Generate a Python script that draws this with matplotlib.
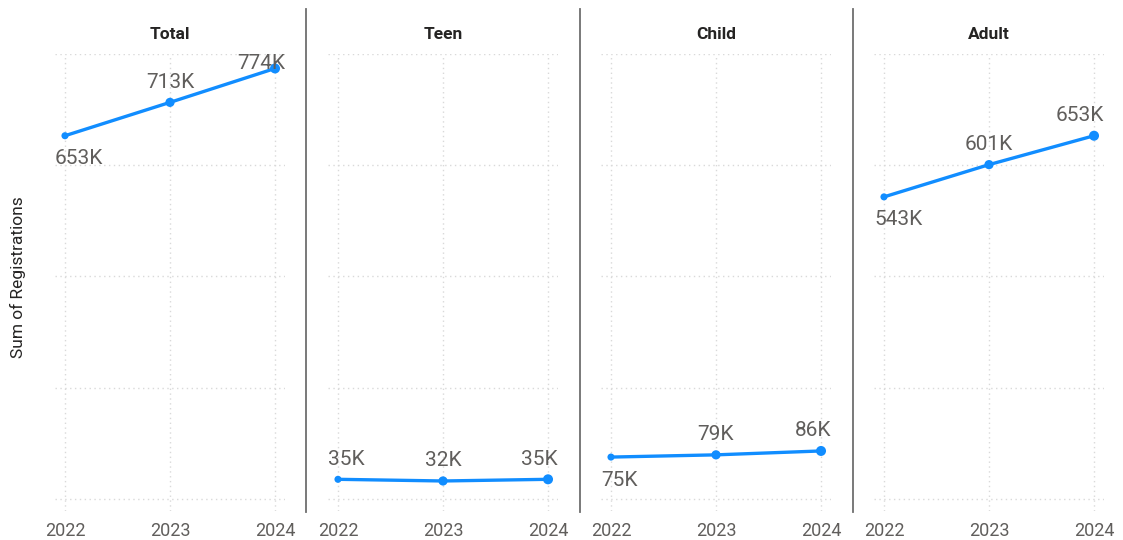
import matplotlib
matplotlib.use("Agg")
import matplotlib.pyplot as plt
from matplotlib.lines import Line2D

plt.rcParams['font.family'] = ['Roboto', 'DejaVu Sans']

years = [2022, 2023, 2024]
panels = ["Total", "Teen", "Child", "Adult"]
values_k = {
    "Total": [653, 713, 774],
    "Teen": [35, 32, 35],
    "Child": [75, 79, 86],
    "Adult": [543, 601, 653],
}
label_pos = {
    "Total": ["below", "above", "above"],
    "Teen": ["above", "above", "above"],
    "Child": ["below", "above", "above"],
    "Adult": ["below", "above", "above"],
}
yticks_k = [0, 200, 400, 600, 800]
marker_sizes = [26, 44, 52]

LINE = "#118DFF"
TXT = "#605E5C"

W, H = 1123, 540
fig = plt.figure(figsize=(W / 100, H / 100), dpi=100)

lefts = [55, 328, 601, 874]
axw = 230
top_px, bot_px = 54, 511

texts = []
axes = []
for name, lp in zip(panels, lefts):
    ax = fig.add_axes([lp / W, (H - bot_px) / H, axw / W, (bot_px - top_px) / H])
    axes.append(ax)
    vals = values_k[name]
    ax.plot(years, vals, color=LINE, lw=2.4, zorder=3, solid_capstyle='round')
    ax.scatter(years, vals, s=marker_sizes, color=LINE, zorder=4, linewidths=0)
    ax.set_xlim(2022 - 0.095, 2024 + 0.095)
    ax.set_ylim(-22, 800)
    ax.set_xticks(years)
    ax.set_xticklabels([str(y) for y in years])
    ax.set_yticks(yticks_k)
    ax.set_yticklabels([])
    ax.grid(True, color="#D9D9D9", linestyle=(0, (1, 2.5)), linewidth=1)
    ax.set_axisbelow(True)
    for s in ax.spines.values():
        s.set_visible(False)
    ax.tick_params(axis='both', length=0, pad=8, colors=TXT, labelsize=13)
    ax.set_title(name, fontsize=12.5, fontweight='bold', color="#252423", pad=11)
    for x, v, pos in zip(years, vals, label_pos[name]):
        off = 20 if pos == "above" else -23
        t = ax.annotate(f"{v}K", (x, v), xytext=(0, off * 0.72), textcoords='offset points',
                        ha='center', va='center', fontsize=15, color=TXT, zorder=5)
        texts.append((ax, t))

# clamp labels inside plot area
fig.canvas.draw()
r = fig.canvas.get_renderer()
for ax, t in texts:
    bb = t.get_window_extent(r)
    abb = ax.bbox
    dx = dy = 0.0
    if bb.x0 < abb.x0:
        dx = abb.x0 - bb.x0
    elif bb.x1 > abb.x1:
        dx = abb.x1 - bb.x1
    if bb.y1 > abb.y1:
        dy = abb.y1 - bb.y1
    if dx or dy:
        ox, oy = t.xyann
        t.xyann = (ox + dx * 72 / fig.dpi, oy + dy * 72 / fig.dpi)

for xd in [306, 580, 853]:
    fig.add_artist(Line2D([xd / W, xd / W], [(H - 9) / H, (H - 512) / H],
                          color="#6E6E6E", lw=1.3, transform=fig.transFigure))

fig.text(18 / W, (H - 277) / H, "Sum of Registrations", rotation=90, ha='center', va='center',
         fontsize=12.5, color="#252423")

fig.savefig("out.png", dpi=100, facecolor="white")
